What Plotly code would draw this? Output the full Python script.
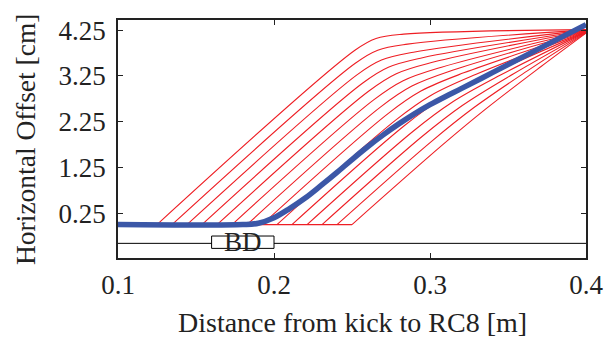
import plotly.graph_objects as go

# ---- axis ticks ----
x_ticks = [0.1, 0.2, 0.3, 0.4]
y_ticks = [0.25, 1.25, 2.25, 3.25, 4.25]
x_title = "Distance from kick to RC8 [m]"
y_title = "Horizontal Offset [cm]"

# ---- red trajectories (one per kick position) ----
kick_x = [0.1250, 0.1346, 0.1442, 0.1538, 0.1635, 0.1731, 0.1827,
          0.1923, 0.2019, 0.2115, 0.2212, 0.2308, 0.2404, 0.2500]
bend_start_x = [0.2521, 0.2521, 0.2534, 0.2567, 0.2606, 0.2639, 0.2684,
                0.2731, 0.2782, 0.2835, 0.2892, 0.2951, 0.3014, 0.3080]
bend_start_y = [3.814, 3.525, 3.276, 3.087, 2.914, 2.724, 2.571,
                2.424, 2.289, 2.160, 2.040, 1.930, 1.830, 1.740]
bend_mid_x = [0.2654, 0.2665, 0.2689, 0.2733, 0.2784, 0.2828, 0.2884,
              0.2942, 0.3005, 0.3069, 0.3137, 0.3207, 0.3282, 0.3358]
bend_mid_y = [4.066, 3.810, 3.594, 3.437, 3.297, 3.143, 3.026,
              2.917, 2.822, 2.736, 2.662, 2.602, 2.557, 2.527]
bend_end_x = [0.2831, 0.2856, 0.2894, 0.2952, 0.3016, 0.3074, 0.3144,
              0.3216, 0.3292, 0.3370, 0.3452, 0.3536, 0.3624, 0.3710]
bend_end_y = [4.161, 3.943, 3.766, 3.646, 3.546, 3.439, 3.370,
              3.315, 3.280, 3.262, 3.266, 3.296, 3.358, 3.448]
end_x = 0.4
end_y = [4.260, 4.254, 4.248, 4.242, 4.236, 4.230, 4.224,
         4.218, 4.212, 4.206, 4.200, 4.194, 4.188, 4.182]
flat_x = [0.1, 0.25]
flat_y = [0.0, 0.0]

# ---- blue (thick) trajectory ----
blue_x = [0.100, 0.180, 0.190, 0.200, 0.210, 0.220, 0.230, 0.240, 0.250,
          0.260, 0.270, 0.280, 0.290, 0.300, 0.310, 0.320, 0.340, 0.360,
          0.380, 0.400]
blue_y = [0.00, 0.00, 0.03, 0.15, 0.35, 0.58, 0.85, 1.13, 1.42,
          1.70, 1.96, 2.20, 2.42, 2.62, 2.80, 2.97, 3.32, 3.67,
          4.02, 4.37]

# ---- beam line and BD element ----
line_x = [0.1, 0.4]
line_y = [-0.41, -0.41]
bd_x = [0.16, 0.20]
bd_y = [-0.52, -0.25]
bd_label = "BD"

RED = "rgb(238,30,36)"
BLUE = "rgb(59,87,167)"
INK = "#222"
FONT = "Liberation Serif"

fig = go.Figure()

fig.add_trace(go.Scatter(x=line_x, y=line_y, mode="lines",
                         line=dict(color="black", width=1), hoverinfo="skip"))
fig.add_trace(go.Scatter(
    x=[bd_x[0], bd_x[1], bd_x[1], bd_x[0], bd_x[0]],
    y=[bd_y[0], bd_y[0], bd_y[1], bd_y[1], bd_y[0]],
    mode="lines", fill="toself", fillcolor="white",
    line=dict(color="black", width=1), hoverinfo="skip"))

fig.add_trace(go.Scatter(x=flat_x, y=flat_y, mode="lines",
                         line=dict(color=RED, width=1.1), hoverinfo="skip"))
for i in range(len(kick_x)):
    fig.add_trace(go.Scatter(
        x=[kick_x[i], bend_start_x[i], bend_mid_x[i], bend_end_x[i], end_x],
        y=[0.0, bend_start_y[i], bend_mid_y[i], bend_end_y[i], end_y[i]],
        mode="lines", line=dict(color=RED, width=1.1, shape="spline",
                                smoothing=1.0),
        hoverinfo="skip"))

fig.add_trace(go.Scatter(x=blue_x, y=blue_y, mode="lines",
                         line=dict(color=BLUE, width=5.5, shape="spline",
                                   smoothing=1.0),
                         hoverinfo="skip"))

fig.add_annotation(x=(bd_x[0] + bd_x[1]) / 2, y=(bd_y[0] + bd_y[1]) / 2,
                   text=bd_label, showarrow=False,
                   font=dict(family=FONT, size=27, color=INK))

# axis titles placed as annotations for exact positioning
fig.add_annotation(xref="paper", yref="paper", x=0.5, y=0, yshift=-64,
                   xanchor="center", yanchor="middle", text=x_title,
                   showarrow=False, font=dict(family=FONT, size=28, color=INK))
fig.add_annotation(xref="paper", yref="paper", x=0, y=0.5, xshift=-93,
                   xanchor="center", yanchor="middle", text=y_title,
                   textangle=-90, showarrow=False,
                   font=dict(family=FONT, size=27.5, color=INK))

axis_common = dict(showline=True, linecolor=INK, linewidth=1.5,
                   mirror="ticks", ticks="inside", ticklen=5,
                   tickcolor=INK, tickwidth=1.2, showgrid=False,
                   zeroline=False, automargin=False,
                   tickfont=dict(family=FONT, size=27, color=INK))

fig.update_xaxes(range=[0.1, 0.4], tickvals=x_ticks,
                 ticktext=[f"{v:.1f}" for v in x_ticks],
                 ticklabelstandoff=2, **axis_common)
fig.update_yaxes(range=[-0.73, 4.47], tickvals=y_ticks,
                 ticktext=[f"{v:.2f}" for v in y_ticks],
                 ticklabelstandoff=5, **axis_common)

# page body has an 8px default margin: size/margins compensate so the
# plot area lands where the reference shows it
fig.update_layout(width=604, height=332,
                  margin=dict(l=110, r=26, t=12, b=82),
                  paper_bgcolor="white", plot_bgcolor="white",
                  showlegend=False,
                  font=dict(family=FONT, size=27, color=INK))

fig.write_html("out.html")
